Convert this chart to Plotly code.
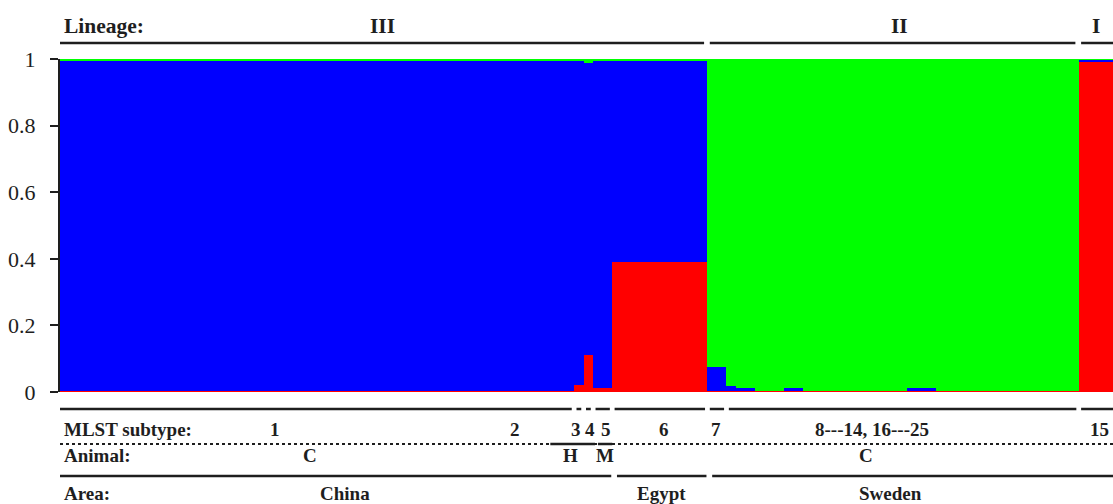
import plotly.graph_objects as go

# ---------------- data ----------------
# groups of isolates with identical ancestry proportions (number of isolates per group)
seg_counts = [54, 1, 1, 2, 10, 2, 1, 2, 3, 2, 11, 3, 15, 4]
seg_red    = [0.004, 0.020, 0.110, 0.012, 0.390, 0.003, 0.003, 0.003, 0.003, 0.003, 0.003, 0.003, 0.003, 0.990]
seg_blue   = [0.991, 0.975, 0.878, 0.983, 0.605, 0.072, 0.015, 0.009, 0.000, 0.009, 0.000, 0.009, 0.000, 0.007]
seg_green  = [round(1 - r - b, 3) for r, b in zip(seg_red, seg_blue)]

lineage_labels = ["III", "II", "I"]
lineage_counts = [68, 39, 4]

mlst_labels = ["1", "2", "3", "4", "5", "6", "7", "8---14, 16---25", "15"]
mlst_counts = [44, 10, 1, 1, 2, 10, 2, 37, 4]

animal_labels = ["C", "H", "M", "", "C"]
animal_counts = [52, 4, 2, 10, 43]

area_labels = ["China", "Egypt", "Sweden"]
area_counts = [58, 10, 43]

# ---------------- expand to isolates ----------------
red, blue, green = [], [], []
for n, r, b, g in zip(seg_counts, seg_red, seg_blue, seg_green):
    red += [r] * n
    blue += [b] * n
    green += [g] * n
N = len(red)
xs = [i + 0.5 for i in range(N)]
XMAX = 110.6  # visible part of the axis

RED, BLUE, GREEN = "#FF0000", "#0000FF", "#00FF00"
INK = "#1e1e1e"
SERIF = "Liberation Serif, Times New Roman, serif"

fig = go.Figure()
for name, vals, col in [("red", red, RED), ("blue", blue, BLUE), ("green", green, GREEN)]:
    fig.add_trace(go.Bar(x=xs, y=vals, width=[1] * N, name=name,
                         marker=dict(color=col, line=dict(width=0)),
                         showlegend=False, hoverinfo="skip"))


def bounds(counts):
    out, s = [], 0
    for c in counts:
        out.append((s, s + c))
        s += c
    return out


shapes = []
annotations = []


def hline(x0, x1, y, width=2.5, dash="solid"):
    x1 = min(x1, XMAX + 1)
    shapes.append(dict(type="line", xref="x", yref="paper", x0=x0, x1=x1, y0=y, y1=y,
                       line=dict(color=INK, width=width, dash=dash)))


def label(text, x, y, size=19, xref="x", xanchor="center"):
    annotations.append(dict(text="<b>%s</b>" % text, x=x, y=y, xref=xref, yref="paper",
                            xanchor=xanchor, yanchor="middle", showarrow=False,
                            font=dict(family=SERIF, size=size, color=INK)))


# pixel -> paper helper (plot area: top 59, bottom 392)
def py(px):
    return (392 - px) / 333.0


# ----- lineage row (top) -----
for (s, e) in bounds(lineage_counts):
    hline(s + (0.25 if s > 0 else 0), e - 0.35, py(43))
lineage_x = [33.9, 88.2, 108.8]
for t, x in zip(lineage_labels, lineage_x):
    label(t, x, py(26), size=21.5)
label("Lineage:", 0.2, py(26), size=21.5, xanchor="left")

# ----- MLST row -----
mb = bounds(mlst_counts)
top_segs = [(0, mb[1][1])] + mb[2:]
for (s, e) in top_segs:
    hline(s + (0.25 if s > 0 else 0), e - 0.25, py(409))
mlst_x = [22.6, 47.8, 54.2, 55.7, 57.3, 63.4, 68.9, 85.3, 109.2]
for t, x in zip(mlst_labels, mlst_x):
    label(t, x, py(429))
label("MLST subtype:", 0.2, py(429), xanchor="left")

# dotted separator with solid parts over H and M
hline(0, XMAX + 1, py(444), width=2, dash="dot")
ab = bounds(animal_counts)
hline(ab[1][0] - 0.5, ab[1][1] + 0.2, py(444), width=2.5)
hline(ab[2][0] + 0.5, ab[2][1], py(444), width=2.5)

# ----- animal row -----
animal_x = [26.3, 53.6, 57.2, 63.0, 84.7]
for t, x in zip(animal_labels, animal_x):
    if t:
        label(t, x, py(455))
label("Animal:", 0.2, py(455), xanchor="left")

# ----- area row -----
for (s, e) in bounds(area_counts):
    hline(s + (0.5 if s > 0 else 0), e - 0.1, py(476))
area_x = [29.9, 63.2, 87.2]
for t, x in zip(area_labels, area_x):
    label(t, x, py(493))
label("Area:", 0.2, py(493), xanchor="left")

fig.update_layout(
    width=1113, height=504,
    margin=dict(l=60, r=0, t=59, b=112),
    barmode="stack", bargap=0,
    paper_bgcolor="white", plot_bgcolor="white",
    shapes=shapes, annotations=annotations,
    xaxis=dict(range=[0, XMAX], showticklabels=False, ticks="", showgrid=False,
               zeroline=False, showline=False, fixedrange=True),
    yaxis=dict(range=[0, 1], tickvals=[0, 0.2, 0.4, 0.6, 0.8, 1],
               ticktext=["0", "0.2", "0.4", "0.6", "0.8", "1"],
               ticks="outside", ticklen=8, tickwidth=2, tickcolor=INK,
               showline=True, linecolor=INK, linewidth=2,
               showgrid=False, zeroline=False, ticklabelstandoff=10,
               tickfont=dict(family=SERIF, size=22, color=INK), fixedrange=True),
)

fig.write_html("out.html", config={"displayModeBar": False},
               post_script="document.body.style.margin='0';document.body.style.overflow='hidden';")
